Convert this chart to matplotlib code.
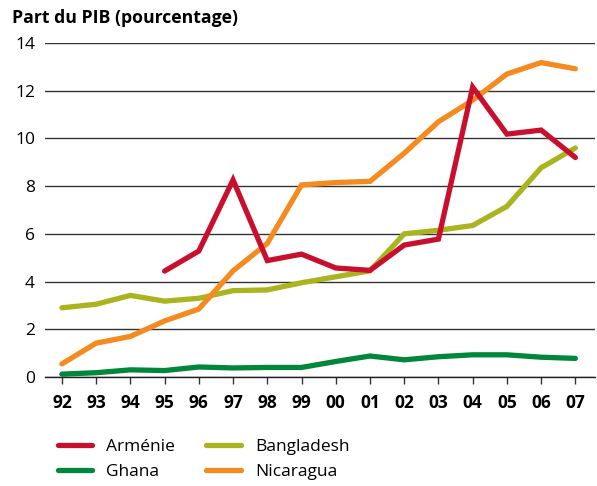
import matplotlib.pyplot as plt
import numpy as np

years = ['92', '93', '94', '95', '96', '97', '98', '99', '00', '01', '02', '03', '04', '05', '06', '07']

armenie = [np.nan, np.nan, np.nan, 4.44, 5.28, 8.26, 4.88, 5.15, 4.57, 4.47, 5.53, 5.78, 12.15, 10.18, 10.35, 9.2]
ghana = [0.12, 0.18, 0.3, 0.27, 0.42, 0.38, 0.4, 0.4, 0.65, 0.88, 0.72, 0.85, 0.93, 0.93, 0.83, 0.78]
bangladesh = [2.9, 3.05, 3.42, 3.18, 3.3, 3.62, 3.65, 3.95, 4.2, 4.45, 6.0, 6.15, 6.35, 7.15, 8.77, 9.6]
nicaragua = [0.55, 1.42, 1.7, 2.35, 2.85, 4.45, 5.6, 8.05, 8.15, 8.2, 9.38, 10.7, 11.6, 12.7, 13.18, 12.92]

plt.rcParams['font.family'] = ['Open Sans', 'DejaVu Sans']

fig = plt.figure(figsize=(5.97, 4.86), dpi=100)
ax = fig.add_axes([0.075, 1 - 377 / 486, 0.922, (377 - 43) / 486])

x = np.arange(len(years))
lw = 3.8
l1, = ax.plot(x, armenie, color='#c8102e', lw=lw, label='Arménie', solid_capstyle='round', solid_joinstyle='miter')
l3, = ax.plot(x, bangladesh, color='#aab41e', lw=lw, label='Bangladesh', solid_capstyle='round', solid_joinstyle='miter')
l2, = ax.plot(x, ghana, color='#00873c', lw=lw, label='Ghana', solid_capstyle='round', solid_joinstyle='miter')
l4, = ax.plot(x, nicaragua, color='#f58a1f', lw=lw, label='Nicaragua', solid_capstyle='round', solid_joinstyle='miter')
# keep orange over others like the original
l4.set_zorder(2.5)
l1.set_zorder(2.6)

ax.set_xlim(-0.5, 15.58)
ax.set_ylim(0, 14)
ax.set_yticks(range(0, 15, 2))
ax.set_xticks(x)
ax.set_xticklabels(years, fontweight='bold', fontsize=12.5)
ax.tick_params(axis='y', length=0, labelsize=12.5, pad=7)
ax.tick_params(axis='x', length=5, width=1, color='#333333', pad=7)
ax.yaxis.grid(True, color='#333333', lw=1)
ax.set_axisbelow(True)
for s in ['top', 'right', 'left']:
    ax.spines[s].set_visible(False)
ax.spines['bottom'].set_color('#222222')
ax.spines['bottom'].set_linewidth(1)

fig.text(12 / 597, 1 - 18 / 486, 'Part du PIB (pourcentage)', fontsize=12.7, fontweight='bold', va='center', ha='left')

fig.legend(handles=[l1, l2, l3, l4], labels=['Arménie', 'Ghana', 'Bangladesh', 'Nicaragua'],
           ncol=2, frameon=False, loc='upper left', bbox_to_anchor=(42 / 597, 1 - 423 / 486),
           fontsize=12.5, handlelength=2.0, handletextpad=0.8, columnspacing=1.8, labelspacing=0.55)

fig.savefig('out.png', dpi=100)
